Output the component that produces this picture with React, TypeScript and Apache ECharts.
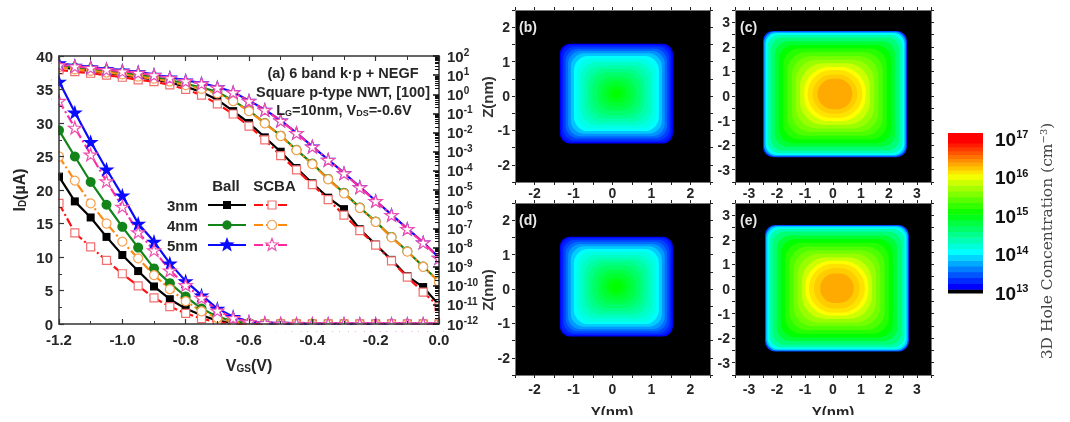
import React, { useEffect, useRef } from "react";
import * as echarts from "echarts";

const vgs = [-1.2,-1.15,-1.1,-1.05,-1.0,-0.95,-0.9,-0.85,-0.8,-0.75,-0.7,-0.65,-0.6,-0.55,-0.5,-0.45,-0.4,-0.35,-0.3,-0.25,-0.2,-0.15,-0.1,-0.05,0];

// Linear current, µA
const id3Ball = [22,18.3,15.9,13,10.3,7.9,5.6,3.7,2.3,1.3,0.5,0.15,0.04,0.02,0.01,0.01,0.01,0.01,0.01,0.01,0.01,0.01,0.01,0.01,0.01];
const id3Scba = [18,13.6,11.5,9.5,7.5,5.7,3.9,2.6,1.6,0.8,0.25,0.05,0.02,0.01,0.01,0.01,0.01,0.01,0.01,0.01,0.01,0.01,0.01,0.01,0.01];
const id4Ball = [28.9,25,21.2,17.8,14.5,11.4,8.3,6.1,4.1,2.3,1.1,0.4,0.15,0.05,0.02,0.01,0.01,0.01,0.01,0.01,0.01,0.01,0.01,0.01,0.01];
const id4Scba = [25,21.4,18,15,12.3,9.8,7.3,5.2,3.4,1.9,0.9,0.3,0.1,0.03,0.01,0.01,0.01,0.01,0.01,0.01,0.01,0.01,0.01,0.01,0.01];
const id5Ball = [36.2,31.6,27.2,23.1,19.2,15,12.3,9.05,6.4,4.3,2.3,1.1,0.35,0.15,0.06,0.03,0.02,0.01,0.01,0.01,0.01,0.01,0.01,0.01,0.01];
const id5Scba = [33.3,29.3,25.3,21.3,17.5,13.7,11,8,5.8,3.9,2,0.9,0.3,0.12,0.05,0.02,0.01,0.01,0.01,0.01,0.01,0.01,0.01,0.01,0.01];

// Log current, decades
const log3Ball = [1.45,1.3,1.22,1.12,1,0.88,0.78,0.62,0.4,0.12,-0.28,-0.88,-1.5,-2.25,-3,-3.85,-4.65,-5.4,-6,-7.05,-7.85,-8.65,-9.5,-10.07,-11];
const log3Scba = [1.27,1.18,1.1,1,0.89,0.75,0.66,0.49,0.26,-0.04,-0.5,-1.03,-1.66,-2.38,-3.2,-3.95,-4.72,-5.5,-6.31,-7.12,-7.88,-8.7,-9.55,-10.33,-11.1];
const log4Ball = [1.5,1.4,1.32,1.22,1.12,1,0.9,0.74,0.55,0.35,0.13,-0.33,-0.85,-1.5,-2.16,-2.9,-3.62,-4.42,-5.15,-5.92,-6.65,-7.45,-8.2,-9,-9.78];
const log4Scba = [1.42,1.3,1.22,1.14,1.04,0.92,0.82,0.67,0.48,0.28,0.05,-0.36,-0.88,-1.52,-2.18,-2.92,-3.65,-4.44,-5.18,-5.94,-6.67,-7.47,-8.22,-9.01,-9.8];
const log5Ball = [1.63,1.5,1.43,1.33,1.25,1.17,1.03,0.89,0.73,0.59,0.38,0.12,-0.33,-0.8,-1.36,-2.01,-2.72,-3.41,-4.11,-4.84,-5.56,-6.29,-7.02,-7.73,-8.53];
const log5Scba = [1.53,1.46,1.38,1.28,1.2,1.12,1,0.85,0.69,0.56,0.35,0.1,-0.35,-0.82,-1.38,-2.03,-2.74,-3.43,-4.13,-4.86,-5.58,-6.31,-7.04,-7.75,-8.55];

// Contour bands: half width (nm), corner roundness, log10 concentration
const bandsB = [[1.45,0.2,13.1],[1.41,0.22,13.2],[1.36,0.25,13.32],[1.3,0.28,13.46],[1.24,0.3,13.62],[1.17,0.34,13.8],[1.09,0.38,14],[1.02,0.44,14.1],[0.92,0.52,14.22],[0.82,0.6,14.34],[0.72,0.7,14.46],[0.62,0.8,14.58],[0.5,0.9,14.7],[0.38,0.96,14.8],[0.26,1,14.9],[0.14,1,15]];
const bandsD = [[1.45,0.2,13.12],[1.41,0.22,13.22],[1.36,0.25,13.34],[1.3,0.28,13.48],[1.24,0.3,13.64],[1.17,0.34,13.82],[1.09,0.38,14.01],[1.02,0.44,14.12],[0.92,0.52,14.24],[0.82,0.6,14.36],[0.72,0.7,14.48],[0.62,0.8,14.6],[0.5,0.9,14.72],[0.38,0.96,14.82],[0.26,1,14.92],[0.16,1,15]];
const bandsC = [[2.57,0.16,13.3],[2.53,0.17,13.7],[2.48,0.18,14],[2.41,0.2,14.3],[2.3,0.22,14.55],[2.15,0.26,14.8],[2,0.3,15],[1.85,0.36,15.15],[1.7,0.44,15.3],[1.55,0.52,15.45],[1.4,0.62,15.6],[1.25,0.76,15.8],[1.1,0.92,16],[0.98,1,16.1],[0.8,1,16.18],[0.62,1,16.3]];
const bandsE = [[2.57,0.16,13.35],[2.53,0.17,13.8],[2.48,0.18,14.05],[2.41,0.2,14.32],[2.3,0.22,14.55],[2.15,0.26,14.8],[2,0.3,15],[1.85,0.36,15.15],[1.7,0.44,15.3],[1.55,0.52,15.45],[1.4,0.62,15.6],[1.25,0.76,15.8],[1.12,0.92,16],[1,1,16.1],[0.82,1,16.18],[0.6,1,16.3]];
const centerB = [0.1, 0.07];
const centerC = [0.07, 0.08];
const centerD = [0.1, 0.07];
const centerE = [0.14, 0.03];

const barLevels = [13,13.1,13.25,13.4,13.55,13.7,13.85,14,14.15,14.3,14.45,14.6,14.75,14.9,15.05,15.2,15.35,15.5,15.65,15.8,15.95,16.1,16.2,16.3,16.4,16.5,16.6,16.7,16.8,16.9,17.16];
const barTicks = [13,14,15,16,17];

const stopLevels = [13.1,14,15,16,16.9];
const stopColors = ["#0000ff","#00ffff","#00ff00","#ffff00","#ff0000"];

const levelColor = (v: number) => {
  if (v < 13.1) return "#000000";
  if (v >= stopLevels[4]) return stopColors[4];
  let i = 0;
  while (v >= stopLevels[i + 1]) i++;
  const t = (v - stopLevels[i]) / (stopLevels[i + 1] - stopLevels[i]);
  return echarts.color.lerp(t, [stopColors[i], stopColors[i + 1]]) as string;
};

const SANS = '"Liberation Sans", Arial, sans-serif';
const TXT = "#262626";
const STAR = "path://M50 0 L61 35 L98 35 L68 57 L79 91 L50 70 L21 91 L32 57 L2 35 L39 35 Z";
const DASHDOT = [9, 3, 2, 3];

const lineSeries = (name: string, vals: number[], yAxisIndex: number, color: string, symbol: string, size: number, hollow: boolean, border: string, dashed: boolean, log: boolean) => ({
  type: "line",
  name,
  xAxisIndex: 0,
  yAxisIndex,
  data: vals.map((v, i) => [vgs[i], log ? Math.pow(10, v) : v]),
  symbol,
  symbolSize: size,
  symbolKeepAspect: true,
  showSymbol: true,
  showAllSymbol: true,
  clip: true,
  z: 2,
  lineStyle: { color, width: 2.2, type: dashed ? DASHDOT : "solid" },
  itemStyle: hollow ? { color: "#ffffff", borderColor: border, borderWidth: 1.2 } : { color, borderWidth: 0 },
});

const curves: [string, number[], number[], string, string, number, boolean, string, boolean][] = [
  ["3nm Ball", id3Ball, log3Ball, "#000000", "rect", 8, false, "#000", false],
  ["3nm SCBA", id3Scba, log3Scba, "#ff1010", "rect", 8, true, "#f07070", true],
  ["4nm Ball", id4Ball, log4Ball, "#12841a", "circle", 10, false, "#000", false],
  ["4nm SCBA", id4Scba, log4Scba, "#ff8a10", "circle", 9, true, "#f5a050", true],
  ["5nm Ball", id5Ball, log5Ball, "#0a0aff", STAR, 16, false, "#000", false],
  ["5nm SCBA", id5Scba, log5Scba, "#ff2aa0", STAR, 13, true, "#f050b0", true],
];

const axisLine = { show: true, onZero: false, lineStyle: { color: "#333", width: 1.5 } };

const panelAxes = (lo: number, hi: number, labels: number[], ticks: number[], pos: string, grid: number, margin = 5) => ({
  type: "value", gridIndex: grid, position: pos, min: lo, max: hi,
  splitLine: { show: false },
  axisLine: { show: true, onZero: false, lineStyle: { color: "#777", width: 1 } },
  axisTick: { show: true, length: 3, inside: false, customValues: ticks, lineStyle: { color: "#222" } },
  axisLabel: { show: true, customValues: labels, margin, color: TXT, fontFamily: SANS, fontWeight: "bold", fontSize: 14, formatter: (v: number) => String(v) },
});

const frameAxes = (lo: number, hi: number, ticks: number[], pos: string, grid: number) => ({
  type: "value", gridIndex: grid, position: pos, min: lo, max: hi,
  splitLine: { show: false },
  axisLine: { show: true, onZero: false, lineStyle: { color: "#777", width: 1 } },
  axisTick: { show: true, length: 3, inside: false, customValues: ticks, lineStyle: { color: "#222" } },
  axisLabel: { show: false },
});

const TICKS_S = [-2.5,-2,-1.5,-1,-0.5,0,0.5,1,1.5,2,2.5];
const TICKS_L = [-3.5,-3,-2.5,-2,-1.5,-1,-0.5,0,0.5,1,1.5,2,2.5,3,3.5];
const LAB_S = [-2,-1,0,1,2];
const LAB_L = [-3,-2,-1,0,1,2,3];

const bandSeries = (bands: number[][], c: number[], xi: number, yi: number) => ({
  type: "custom",
  xAxisIndex: xi,
  yAxisIndex: yi,
  coordinateSystem: "cartesian2d",
  encode: { x: 0, y: 1 },
  data: bands.map((b) => [c[0], c[1], b[0], b[1], b[2]]),
  silent: true,
  clip: true,
  renderItem: (_: any, api: any) => {
    const [y, z, h, f, l] = [api.value(0), api.value(1), api.value(2), api.value(3), api.value(4)];
    const a = api.coord([y - h, z + h]);
    const b = api.coord([y + h, z - h]);
    const w = b[0] - a[0];
    const ht = b[1] - a[1];
    return { type: "rect", shape: { x: a[0], y: a[1], width: w, height: ht, r: (f * Math.min(w, ht)) / 2 }, style: { fill: levelColor(l) } };
  },
});

const legendRows = [
  { label: "3nm", y: 205, ball: "#000000", scba: "#ff1010", mark: "rect", edge: "#f07070" },
  { label: "4nm", y: 225, ball: "#12841a", scba: "#ff8a10", mark: "circle", edge: "#f5a050" },
  { label: "5nm", y: 245, ball: "#0a0aff", scba: "#ff2aa0", mark: "star", edge: "#f050b0" },
];

const starPts = (cx: number, cy: number, r: number) => {
  const p: number[][] = [];
  for (let i = 0; i < 10; i++) {
    const a = -Math.PI / 2 + (i * Math.PI) / 5;
    const q = i % 2 ? r * 0.42 : r;
    p.push([cx + q * Math.cos(a), cy + q * Math.sin(a)]);
  }
  return p;
};

const legendMark = (mark: string, x: number, y: number, fill: string, stroke: string, lw: number) => {
  const style = { fill, stroke, lineWidth: lw };
  if (mark === "rect") return { type: "rect", z: 6, shape: { x: x - 4, y: y - 4, width: 8, height: 8 }, style };
  if (mark === "circle") return { type: "circle", z: 6, shape: { cx: x, cy: y, r: 4.7 }, style };
  return { type: "polygon", z: 6, shape: { points: starPts(x, y, lw ? 6.5 : 8) }, style };
};

const legendGraphics = legendRows.flatMap((r) => [
  { type: "text", z: 6, x: 167, y: r.y, style: { text: r.label, fontFamily: SANS, fontWeight: "bold", fontSize: 15, fill: TXT, verticalAlign: "middle" } },
  { type: "line", z: 6, shape: { x1: 208, y1: r.y, x2: 246, y2: r.y }, style: { stroke: r.ball, lineWidth: 2 } },
  legendMark(r.mark, 227, r.y, r.ball, "none", 0),
  { type: "line", z: 6, shape: { x1: 254, y1: r.y, x2: 290, y2: r.y }, style: { stroke: r.scba, lineWidth: 2, lineDash: [9, 3] } },
  legendMark(r.mark, 272, r.y, "#ffffff", r.edge, 1.2),
]);

const plainText = (text: string, x: number, y: number, size: number, fill = TXT, align = "center", extra: any = {}) => ({
  type: "text", z: 6, x, y,
  style: { text, fontFamily: SANS, fontWeight: "bold", fontSize: size, fill, align, verticalAlign: "middle" },
  ...extra,
});

const stripRect = (x: number, y: number, width: number, height: number) => ({
  type: "rect", z: 3, shape: { x, y, width, height }, style: { fill: "#ffffff" },
});

const subRich = {
  b: { fontFamily: SANS, fontWeight: "bold", fontSize: 14.5, fill: TXT, color: TXT },
  s: { fontFamily: SANS, fontWeight: "bold", fontSize: 9, fill: TXT, color: TXT, padding: [5, 0, 0, 0] },
};

const buildOption = () => ({
  animation: false,
  backgroundColor: "#ffffff",
  grid: [
    { left: 59, top: 56, width: 380, height: 268, containLabel: false },
    { left: 515, top: 10, width: 195, height: 172, show: true, backgroundColor: "#000", borderWidth: 0 },
    { left: 735, top: 10, width: 196, height: 172, show: true, backgroundColor: "#000", borderWidth: 0 },
    { left: 515, top: 203, width: 195, height: 172, show: true, backgroundColor: "#000", borderWidth: 0 },
    { left: 735, top: 203, width: 196, height: 172, show: true, backgroundColor: "#000", borderWidth: 0 },
    { left: 948, top: 133, width: 35, height: 160 },
  ],
  xAxis: [
    {
      type: "value", gridIndex: 0, min: -1.2, max: 0, interval: 0.2, position: "bottom", z: 4,
      name: "{b|V}{s|GS}{b|(V)}", nameLocation: "middle", nameGap: 33,
      nameTextStyle: { rich: { b: { fontFamily: SANS, fontWeight: "bold", fontSize: 16, color: TXT }, s: { fontFamily: SANS, fontWeight: "bold", fontSize: 10, color: TXT, padding: [6, 0, 0, 0] } } },
      splitLine: { show: false }, axisLine,
      axisTick: { show: true, inside: true, length: 5, lineStyle: { color: "#333", width: 1.2 } },
      minorTick: { show: true, splitNumber: 2, length: 3, lineStyle: { color: "#333", width: 1 } },
      axisLabel: { margin: 8, color: TXT, fontFamily: SANS, fontWeight: "bold", fontSize: 15, formatter: (v: number) => v.toFixed(1) },
    },
    {
      type: "value", gridIndex: 0, min: -1.2, max: 0, interval: 0.2, position: "top", z: 4,
      splitLine: { show: false }, axisLine,
      axisTick: { show: true, inside: true, length: 5, lineStyle: { color: "#333", width: 1.2 } },
      minorTick: { show: true, splitNumber: 2, length: 4, lineStyle: { color: "#333", width: 1 } },
      axisLabel: { show: false },
    },
    panelAxes(-2.5, 2.5, LAB_S, TICKS_S, "bottom", 1, 4),
    panelAxes(-3.5, 3.5, LAB_L, TICKS_L, "bottom", 2, 4),
    panelAxes(-2.5, 2.5, LAB_S, TICKS_S, "bottom", 3, 7),
    panelAxes(-3.5, 3.5, LAB_L, TICKS_L, "bottom", 4, 7),
    { type: "value", gridIndex: 5, min: 0, max: 1, show: false },
    frameAxes(-2.5, 2.5, TICKS_S, "top", 1),
    frameAxes(-3.5, 3.5, TICKS_L, "top", 2),
    frameAxes(-2.5, 2.5, TICKS_S, "top", 3),
    frameAxes(-3.5, 3.5, TICKS_L, "top", 4),
  ],
  yAxis: [
    {
      type: "value", gridIndex: 0, min: 0, max: 40, interval: 5, position: "left", z: 4,
      name: "{b|I}{s|D}{b|(µA)}", nameLocation: "middle", nameGap: 32,
      nameTextStyle: { rich: { b: { fontFamily: SANS, fontWeight: "bold", fontSize: 16, color: TXT }, s: { fontFamily: SANS, fontWeight: "bold", fontSize: 10, color: TXT, padding: [6, 0, 0, 0] } } },
      splitLine: { show: false }, axisLine,
      axisTick: { show: true, inside: true, length: 5, lineStyle: { color: "#333", width: 1.2 } },
      minorTick: { show: true, splitNumber: 2, length: 3, lineStyle: { color: "#333", width: 1 } },
      axisLabel: { margin: 6, color: TXT, fontFamily: SANS, fontWeight: "bold", fontSize: 15 },
    },
    {
      type: "log", logBase: 10, gridIndex: 0, min: 1e-12, max: 100, interval: 1, position: "right", z: 4,
      splitLine: { show: false }, axisLine,
      axisTick: { show: true, inside: true, length: 6, lineStyle: { color: "#111", width: 1.5 } },
      axisLabel: {
        margin: 8, color: TXT,
        formatter: (v: number) => `{b|10}{s|${Math.round(Math.log10(v))}}`,
        rich: {
          b: { fontFamily: SANS, fontWeight: "bold", fontSize: 15, color: TXT },
          s: { fontFamily: SANS, fontWeight: "bold", fontSize: 10, color: TXT, padding: [0, 0, 7, 0] },
        },
      },
    },
    {
      type: "log", logBase: 10, gridIndex: 0, min: 1e-12, max: 100, position: "right", z: 4,
      splitLine: { show: false }, axisLine: { show: false },
      axisTick: {
        show: true, inside: true, length: 4, lineStyle: { color: "#111", width: 1 },
        customValues: Array.from({ length: 14 }, (_, d) => [2, 3, 4, 5, 6, 7, 8, 9].map((m) => m * Math.pow(10, d - 12))).flat(),
      },
      axisLabel: { show: false },
    },
    panelAxes(-2.5, 2.5, LAB_S, TICKS_S, "left", 1),
    panelAxes(-3.5, 3.5, LAB_L, TICKS_L, "left", 2),
    panelAxes(-2.5, 2.5, LAB_S, TICKS_S, "left", 3),
    panelAxes(-3.5, 3.5, LAB_L, TICKS_L, "left", 4),
    {
      type: "value", gridIndex: 5, min: 13, max: 17.16, position: "right",
      splitLine: { show: false }, axisLine: { show: false }, axisTick: { show: false },
      axisLabel: {
        customValues: barTicks, margin: 12, color: TXT,
        formatter: (v: number) => `{b|10}{s|${v}}`,
        rich: {
          b: { fontFamily: SANS, fontWeight: "bold", fontSize: 19, color: "#111" },
          s: { fontFamily: SANS, fontWeight: "bold", fontSize: 11, color: "#111", padding: [0, 0, 10, 0] },
        },
      },
    },
    frameAxes(-2.5, 2.5, TICKS_S, "right", 1),
    frameAxes(-3.5, 3.5, TICKS_L, "right", 2),
    frameAxes(-2.5, 2.5, TICKS_S, "right", 3),
    frameAxes(-3.5, 3.5, TICKS_L, "right", 4),
  ],
  series: [
    ...curves.map((c) => lineSeries(c[0] + " linear", c[1], 0, c[3], c[4], c[5], c[6], c[7], c[8], false)),
    ...curves.map((c) => lineSeries(c[0] + " log", c[2], 1, c[3], c[4], c[5], c[6], c[7], c[8], true)),
    bandSeries(bandsB, centerB, 2, 3),
    bandSeries(bandsC, centerC, 3, 4),
    bandSeries(bandsD, centerD, 4, 5),
    bandSeries(bandsE, centerE, 5, 6),
    {
      type: "custom", xAxisIndex: 6, yAxisIndex: 7, coordinateSystem: "cartesian2d", silent: true,
      encode: { x: 0, y: 1 },
      data: barLevels.slice(0, -1).map((lo, i) => [0, lo, 1, barLevels[i + 1]]),
      renderItem: (_: any, api: any) => {
        const a = api.coord([api.value(0), api.value(3)]);
        const b = api.coord([api.value(2), api.value(1)]);
        return { type: "rect", shape: { x: a[0], y: a[1], width: b[0] - a[0], height: b[1] - a[1] + 0.5 }, style: { fill: levelColor(api.value(1)) } };
      },
    },
  ],
  graphic: [
    stripRect(52, 325, 396, 6),
    stripRect(52, 56, 6.2, 270),
    stripRect(440, 56, 7, 270),
    plainText("(a) 6 band k·p + NEGF", 343, 73, 14.5),
    plainText("Square p-type NWT, [100]", 343, 92, 14.5),
    {
      type: "text", z: 6, x: 344, y: 110,
      style: { text: "{b|L}{s|G}{b|=10nm, V}{s|DS}{b|=-0.6V}", align: "center", verticalAlign: "middle", rich: subRich },
    },
    plainText("Ball", 226, 185, 15),
    plainText("SCBA", 274.5, 185, 15),
    ...legendGraphics,
    plainText("(b)", 519, 27, 14, "#e8e8e8", "left"),
    plainText("(c)", 740, 27, 14, "#e8e8e8", "left"),
    plainText("(d)", 519, 220, 14, "#e8e8e8", "left"),
    plainText("(e)", 740, 220, 14, "#e8e8e8", "left"),
    plainText("Z(nm)", 487, 97, 15, "#333", "center", { rotation: Math.PI / 2 }),
    plainText("Z(nm)", 487, 290, 15, "#333", "center", { rotation: Math.PI / 2 }),
    plainText("Y(nm)", 612, 411, 15),
    plainText("Y(nm)", 833, 411, 15),
    { type: "rect", z: 7, shape: { x: 560, y: 415, width: 340, height: 7 }, style: { fill: "#ffffff" } },
    {
      type: "text", z: 6, x: 1047, y: 241, rotation: Math.PI / 2,
      style: {
        text: "{b|3D Hole Concentration (cm}{s|−3}{b|)}", align: "center", verticalAlign: "middle",
        rich: {
          b: { fontFamily: '"DejaVu Serif", serif', fontSize: 15.5, fill: "#444" },
          s: { fontFamily: '"DejaVu Serif", serif', fontSize: 10, fill: "#444", padding: [0, 0, 7, 0] },
        },
      },
    },
  ],
});

export default function App() {
  const ref = useRef<HTMLDivElement>(null);
  useEffect(() => {
    document.body.style.margin = "0";
    const chart = echarts.init(ref.current!, undefined, { renderer: "svg" });
    chart.setOption(buildOption() as any);
    return () => chart.dispose();
  }, []);
  return <div ref={ref} style={{ width: 1070, height: 422, filter: "blur(0.4px)" }} />;
}
